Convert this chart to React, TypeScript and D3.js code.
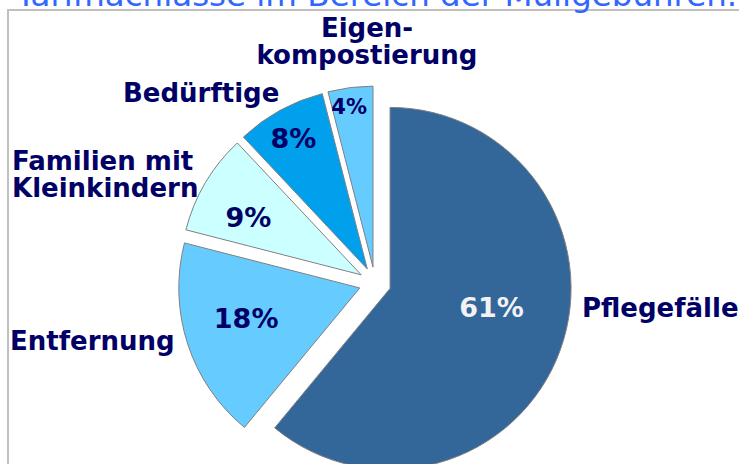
import { pie, arc, PieArcDatum } from 'd3'

const categories = ['Pflegefälle', 'Entfernung', 'Familien mit Kleinkindern', 'Bedürftige', 'Eigenkompostierung']
const shares = [61, 18, 9, 8, 4]
const percentLabels = ['61%', '18%', '9%', '8%', '4%']
const labelLines = [['Pflegefälle'], ['Entfernung'], ['Familien mit', 'Kleinkindern'], ['Bedürftige'], ['Eigen-', 'kompostierung']]
const title = 'Tarifnachlässe im Bereich der Müllgebühren.'

const width = 739
const height = 464

const cx = 375
const cy = 283
const radius = 181
const explode = 16

const fills = ['#336699', '#66CCFF', '#CCFFFF', '#00A0EC', '#66CCFF']
const pctColors = ['#F2F2F2', '#000066', '#000066', '#000066', '#000066']
const pctSizes = [27, 27, 27, 27, 21]
// percent label spot: [fraction of radius, angle in degrees clockwise from 12 o'clock]
const pctSpots = [[0.57, 100.5], [0.65, 255], [0.7, 297], [0.83, 330.5], [0.9, 351.6]]
// outside category labels: [x, first baseline, anchor]
const catSpots: [number, number, string][] = [
  [582, 317, 'start'],
  [10, 350, 'start'],
  [12, 170, 'start'],
  [123, 102, 'start'],
  [367, 37, 'middle'],
]

const font = '"DejaVu Sans", Verdana, sans-serif'

function App() {
  const slices = pie<number>().sort(null).value(d => d)(shares)
  const arcGen = arc<PieArcDatum<number>>().innerRadius(0).outerRadius(radius)

  const offset = (d: PieArcDatum<number>) => {
    const mid = (d.startAngle + d.endAngle) / 2
    return [Math.sin(mid) * explode, -Math.cos(mid) * explode]
  }

  return (
    <svg width={width} height={height} style={{ position: 'absolute', left: 0, top: 0, background: '#fff' }}>
      <rect x={8} y={10} width={width + 20} height={height + 20} fill="#fff" stroke="#C0C0C0" strokeWidth={2} />
      <text x={16} y={6} fontFamily={font} fontSize={32.5} fill="#3366FF">{title}</text>

      <g transform={`translate(${cx},${cy})`}>
        {slices.map((d, i) => {
          const [ox, oy] = offset(d)
          const [fr, deg] = pctSpots[i]
          const a = (deg * Math.PI) / 180
          return (
            <g key={categories[i]} transform={`translate(${ox},${oy})`}>
              <path d={arcGen(d) || ''} fill={fills[i]} stroke="#808080" strokeWidth={1} />
              <text
                x={Math.sin(a) * radius * fr}
                y={-Math.cos(a) * radius * fr}
                dy="0.36em"
                textAnchor="middle"
                fontFamily={font}
                fontWeight="bold"
                fontSize={pctSizes[i]}
                fill={pctColors[i]}
              >
                {percentLabels[i]}
              </text>
            </g>
          )
        })}
      </g>

      {labelLines.map((lines, i) => {
        const [x, y, anchor] = catSpots[i]
        return (
          <text key={categories[i]} x={x} y={y} textAnchor={anchor} fontFamily={font} fontWeight="bold" fontSize={26} fill="#000066">
            {lines.map((ln, j) => (
              <tspan key={ln} x={x} y={y + j * 27}>{ln}</tspan>
            ))}
          </text>
        )
      })}
    </svg>
  )
}

export default App
